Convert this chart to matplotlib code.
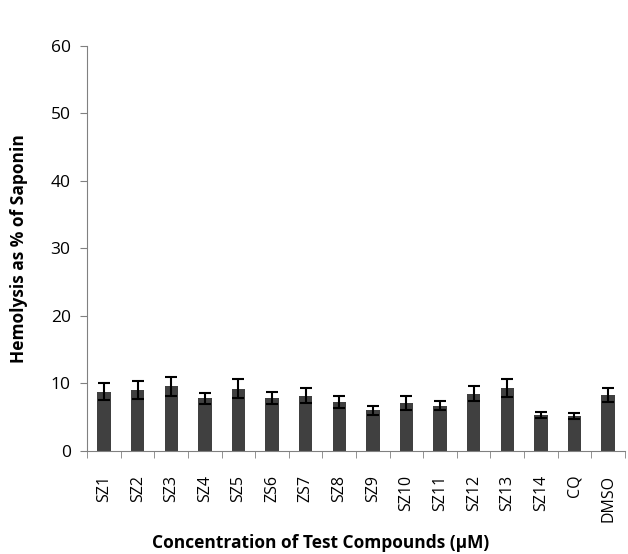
import numpy as np
import matplotlib
matplotlib.use('Agg')
import matplotlib.pyplot as plt

plt.rcParams['font.family'] = ['Open Sans', 'DejaVu Sans']

compounds = ['SZ1', 'SZ2', 'SZ3', 'SZ4', 'SZ5', 'ZS6', 'ZS7', 'SZ8', 'SZ9',
             'SZ10', 'SZ11', 'SZ12', 'SZ13', 'SZ14', 'CQ', 'DMSO']
hemolysis = [8.8, 9.0, 9.6, 7.8, 9.2, 7.8, 8.2, 7.3, 6.0, 7.1, 6.7, 8.5, 9.3, 5.3, 5.2, 8.3]
errors = [1.3, 1.3, 1.4, 0.8, 1.4, 0.9, 1.1, 0.9, 0.7, 1.1, 0.7, 1.1, 1.3, 0.4, 0.4, 1.0]

fig = plt.figure(figsize=(6.28, 5.54), dpi=100)
ax = fig.add_axes([0.139, 0.186, 0.856, 0.731])

x = np.arange(len(compounds))
ax.bar(x, hemolysis, width=0.4, color='#404040', zorder=2)
ax.errorbar(x, hemolysis, yerr=errors, fmt='none', ecolor='black',
            elinewidth=1.5, capsize=4, capthick=1.5, zorder=3)

ax.set_xlim(-0.5, len(compounds) - 0.5)
ax.set_ylim(0, 60)
ax.set_yticks(range(0, 61, 10))

ax.set_xticks(x)
ax.set_xticklabels(compounds, rotation=90, fontsize=11.5)
ax.set_xticks(np.arange(-0.5, len(compounds)), minor=True)
ax.tick_params(axis='x', which='major', length=0, pad=17)
ax.tick_params(axis='x', which='minor', length=5, color='#808080')
ax.tick_params(axis='y', length=5, color='#808080', labelsize=12.5, pad=7)

for s in ['top', 'right']:
    ax.spines[s].set_visible(False)
for s in ['left', 'bottom']:
    ax.spines[s].set_color('#808080')

ax.set_ylabel('Hemolysis as % of Saponin', fontsize=12.5, fontweight='bold', labelpad=16)
fig.text(0.51, 0.02, 'Concentration of Test Compounds (\u00b5M)', fontsize=12.5,
         fontweight='bold', ha='center', va='center')

fig.savefig('out.png', dpi=100)
